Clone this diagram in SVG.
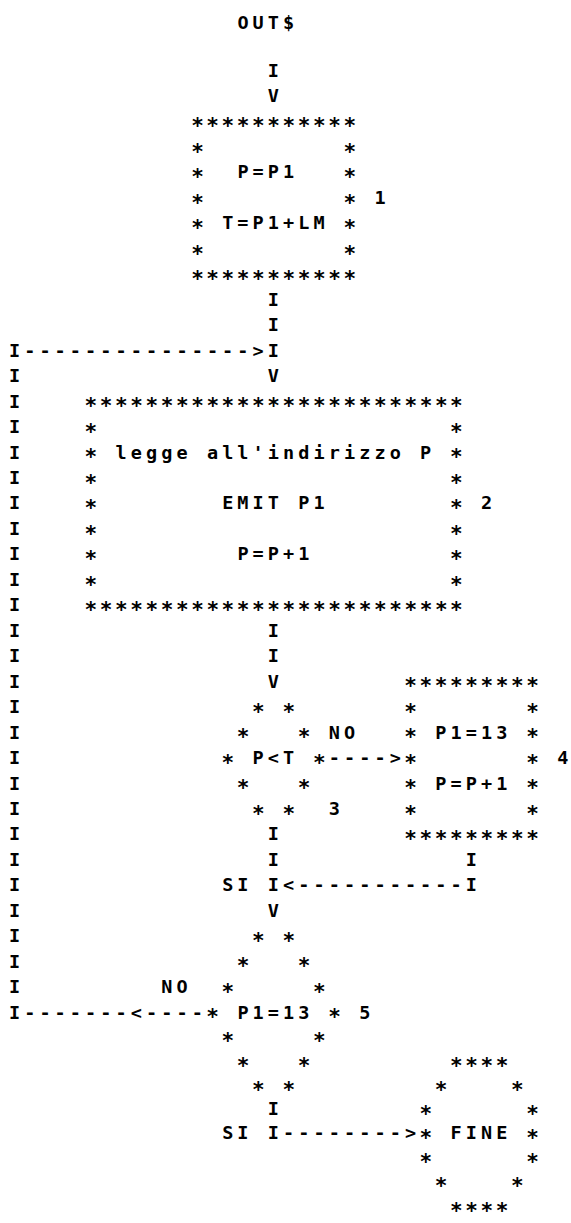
<svg xmlns="http://www.w3.org/2000/svg" width="571" height="1223" viewBox="0 0 571 1223">
<style>
.t{font-family:"DejaVu Sans Mono",monospace;font-size:18.5px;font-weight:bold;letter-spacing:4.09px;fill:#000;white-space:pre}
.a{font-family:"DejaVu Sans Mono",monospace;font-size:21px;font-weight:bold;letter-spacing:2.59px;fill:#000;white-space:pre}
</style>
<rect width="571" height="1223" fill="#fff"/>
<g id="start"><text class="t" x="237.38" y="29">OUT$</text></g>
<g id="box1">
<text class="a" x="191.13" y="133.2">***********</text>
<text class="a" x="191.13" y="158.7">*</text><text class="a" x="343.43" y="158.7">*</text>
<text class="a" x="191.13" y="184.1">*</text><text class="t" x="237.38" y="178.46">P=P1</text><text class="a" x="343.43" y="184.1">*</text>
<text class="a" x="191.13" y="209.6">*</text><text class="a" x="343.43" y="209.6">*</text><text class="t" x="374.45" y="203.92">1</text>
<text class="a" x="191.13" y="235.0">*</text><text class="t" x="222.15" y="229.38">T=P1+LM</text><text class="a" x="343.43" y="235.0">*</text>
<text class="a" x="191.13" y="260.5">*</text><text class="a" x="343.43" y="260.5">*</text>
<text class="a" x="191.13" y="286.0">***********</text>
</g>
<g id="box2">
<text class="a" x="84.52" y="413.3">*************************</text>
<text class="a" x="84.52" y="438.7">*</text><text class="a" x="450.04" y="438.7">*</text>
<text class="a" x="84.52" y="464.2">*</text><text class="t" x="115.54" y="458.52">legge all'indirizzo P</text><text class="a" x="450.04" y="464.2">*</text>
<text class="a" x="84.52" y="489.6">*</text><text class="a" x="450.04" y="489.6">*</text>
<text class="a" x="84.52" y="515.1">*</text><text class="t" x="222.15" y="509.44">EMIT P1</text><text class="a" x="450.04" y="515.1">*</text><text class="t" x="481.06" y="509.44">2</text>
<text class="a" x="84.52" y="540.6">*</text><text class="a" x="450.04" y="540.6">*</text>
<text class="a" x="84.52" y="566.0">*</text><text class="t" x="237.38" y="560.36">P=P+1</text><text class="a" x="450.04" y="566.0">*</text>
<text class="a" x="84.52" y="591.5">*</text><text class="a" x="450.04" y="591.5">*</text>
<text class="a" x="84.52" y="616.9">*************************</text>
</g>
<g id="dec3">
<text class="a" x="252.05" y="718.8">*</text><text class="a" x="282.51" y="718.8">*</text>
<text class="a" x="236.82" y="744.2">*</text><text class="a" x="297.74" y="744.2">*</text>
<text class="a" x="221.59" y="769.7">*</text><text class="t" x="252.61" y="764.04">P&lt;T</text><text class="a" x="312.97" y="769.7">*</text>
<text class="a" x="236.82" y="795.2">*</text><text class="a" x="297.74" y="795.2">*</text>
<text class="a" x="252.05" y="820.6">*</text><text class="a" x="282.51" y="820.6">*</text><text class="t" x="328.76" y="814.96">3</text>
</g>
<g id="box4">
<text class="a" x="404.35" y="693.3">*********</text>
<text class="a" x="404.35" y="718.8">*</text><text class="a" x="526.19" y="718.8">*</text>
<text class="a" x="404.35" y="744.2">*</text><text class="t" x="435.37" y="738.58">P1=13</text><text class="a" x="526.19" y="744.2">*</text>
<text class="a" x="404.35" y="769.7">*</text><text class="a" x="526.19" y="769.7">*</text><text class="t" x="557.21" y="764.04">4</text>
<text class="a" x="404.35" y="795.2">*</text><text class="t" x="435.37" y="789.5">P=P+1</text><text class="a" x="526.19" y="795.2">*</text>
<text class="a" x="404.35" y="820.6">*</text><text class="a" x="526.19" y="820.6">*</text>
<text class="a" x="404.35" y="846.1">*********</text>
</g>
<g id="dec5">
<text class="a" x="252.05" y="947.9">*</text><text class="a" x="282.51" y="947.9">*</text>
<text class="a" x="236.82" y="973.4">*</text><text class="a" x="297.74" y="973.4">*</text>
<text class="a" x="221.59" y="998.8">*</text><text class="a" x="312.97" y="998.8">*</text>
<text class="a" x="206.36" y="1024.3">*</text><text class="t" x="237.38" y="1018.64">P1=13</text><text class="a" x="328.2" y="1024.3">*</text><text class="t" x="359.22" y="1018.64">5</text>
<text class="a" x="221.59" y="1048.43">*</text><text class="a" x="312.97" y="1048.43">*</text>
<text class="a" x="236.82" y="1072.6">*</text><text class="a" x="297.74" y="1072.6">*</text>
<text class="a" x="252.05" y="1096.77">*</text><text class="a" x="282.51" y="1096.77">*</text>
</g>
<g id="end">
<text class="a" x="450.04" y="1072.6">****</text>
<text class="a" x="434.81" y="1096.77">*</text><text class="a" x="510.96" y="1096.77">*</text>
<text class="a" x="419.58" y="1120.94">*</text><text class="a" x="526.19" y="1120.94">*</text>
<text class="a" x="419.58" y="1145.11">*</text><text class="t" x="450.6" y="1139.45">FINE</text><text class="a" x="526.19" y="1145.11">*</text>
<text class="a" x="419.58" y="1169.28">*</text><text class="a" x="526.19" y="1169.28">*</text>
<text class="a" x="434.81" y="1193.45">*</text><text class="a" x="510.96" y="1193.45">*</text>
<text class="a" x="450.04" y="1217.6">****</text>
</g>
<g id="connectors">
<text class="t" x="267.84" y="76.62">I</text>
<text class="t" x="267.84" y="102.08">V</text>
<text class="t" x="267.84" y="305.76">I</text>
<text class="t" x="267.84" y="331.22">I</text>
<text class="t" x="8.93" y="356.68">I--------------->I</text>
<text class="t" x="267.84" y="382.14">V</text>
<text class="t"><tspan x="8.93" y="382.14">I</tspan><tspan x="8.93" y="407.6">I</tspan><tspan x="8.93" y="433.06">I</tspan><tspan x="8.93" y="458.52">I</tspan><tspan x="8.93" y="483.98">I</tspan><tspan x="8.93" y="509.44">I</tspan><tspan x="8.93" y="534.9">I</tspan><tspan x="8.93" y="560.36">I</tspan><tspan x="8.93" y="585.82">I</tspan><tspan x="8.93" y="611.28">I</tspan><tspan x="8.93" y="636.74">I</tspan><tspan x="8.93" y="662.2">I</tspan><tspan x="8.93" y="687.66">I</tspan><tspan x="8.93" y="713.12">I</tspan><tspan x="8.93" y="738.58">I</tspan><tspan x="8.93" y="764.04">I</tspan><tspan x="8.93" y="789.5">I</tspan><tspan x="8.93" y="814.96">I</tspan><tspan x="8.93" y="840.42">I</tspan><tspan x="8.93" y="865.88">I</tspan><tspan x="8.93" y="891.34">I</tspan><tspan x="8.93" y="916.8">I</tspan><tspan x="8.93" y="942.26">I</tspan><tspan x="8.93" y="967.72">I</tspan><tspan x="8.93" y="993.18">I</tspan></text>
<text class="t" x="267.84" y="636.74">I</text>
<text class="t" x="267.84" y="662.2">I</text>
<text class="t" x="267.84" y="687.66">V</text>
<text class="t" x="328.76" y="738.58">NO</text>
<text class="t" x="328.76" y="764.04">----&gt;</text>
<text class="t" x="267.84" y="840.42">I</text>
<text class="t" x="267.84" y="865.88">I</text>
<text class="t" x="465.83" y="865.88">I</text>
<text class="t" x="222.15" y="891.34">SI</text>
<text class="t" x="267.84" y="891.34">I&lt;-----------I</text>
<text class="t" x="267.84" y="916.8">V</text>
<text class="t" x="161.23" y="993.18">NO</text>
<text class="t" x="8.93" y="1018.64">I-------&lt;----</text>
<text class="t" x="267.84" y="1115.28">I</text>
<text class="t" x="222.15" y="1139.45">SI</text>
<text class="t" x="267.84" y="1139.45">I--------&gt;</text>
</g>
</svg>
